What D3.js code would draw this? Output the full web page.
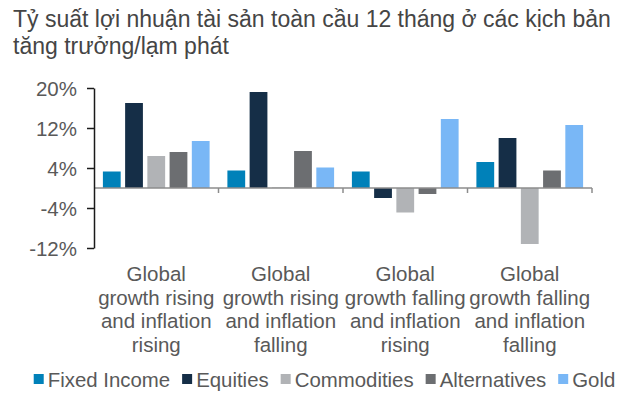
<!DOCTYPE html>
<html><head><meta charset="utf-8">
<script src="https://cdn.jsdelivr.net/npm/d3@7"></script>
<style>
html,body{margin:0;padding:0;background:#fff;}
svg{display:block;font-family:"Liberation Sans",Arial,Helvetica,sans-serif;}
</style></head>
<body>
<svg id="chart" width="640" height="400"></svg>
<script>
const titleLines = ["Tỷ suất lợi nhuận tài sản toàn cầu 12 tháng ở các kịch bản", "tăng trưởng/lạm phát"];
const categories = ["rr", "rf", "fr", "ff"];
const categoryLabels = [
  ["Global", "growth rising", "and inflation", "rising"],
  ["Global", "growth rising", "and inflation", "falling"],
  ["Global", "growth falling", "and inflation", "rising"],
  ["Global", "growth falling", "and inflation", "falling"]
];
const seriesNames = ["Fixed Income", "Equities", "Commodities", "Alternatives", "Gold"];
const fixedIncome  = [3.3, 3.5, 3.3, 5.2];
const equities     = [17.0, 19.2, -2.0, 10.0];
const commodities  = [6.4, 0.1, -4.9, -11.2];
const alternatives = [7.2, 7.4, -1.2, 3.5];
const gold         = [9.4, 4.1, 13.8, 12.6];
const seriesValues = [fixedIncome, equities, commodities, alternatives, gold];
const seriesColors = ["#0081b9", "#152e47", "#b1b3b6", "#6c6e71", "#79b7f6"];
const yTicks = [-12, -4, 4, 12, 20];

const svg = d3.select("#chart");
const textColor = "#595959";

// title
svg.append("g").selectAll("text").data(titleLines).join("text")
  .attr("x", 13).attr("y", (d, i) => 26.5 + i * 27.5)
  .attr("font-size", 23).attr("fill", "#454545").text(d => d);

const x0 = d3.scaleBand().domain(categories).range([94, 592]).padding(0);
const x1 = d3.scaleBand().domain(seriesNames).range([0, x0.bandwidth()]).paddingInner(0.2).paddingOuter(0.4);
const y = d3.scaleLinear().domain([-12, 20]).range([248, 88]);

// bars
const groups = svg.append("g").selectAll("g").data(categories).join("g")
  .attr("transform", d => `translate(${x0(d)},0)`);
groups.selectAll("rect").data((c, ci) => seriesNames.map((s, si) => ({s, si, v: seriesValues[si][ci]})))
  .join("rect")
  .attr("x", d => x1(d.s)).attr("width", x1.bandwidth())
  .attr("y", d => y(Math.max(0, d.v)))
  .attr("height", d => Math.abs(y(d.v) - y(0)))
  .attr("fill", d => seriesColors[d.si]);

// x axis at zero (gray)
const xAxis = svg.append("g").attr("transform", `translate(0,${y(0)})`);
xAxis.append("line").attr("x1", 94).attr("x2", 592).attr("stroke", "#8c8c8c").attr("stroke-width", 1.5);
const boundaries = categories.map(c => x0(c) + x0.bandwidth());
xAxis.selectAll("line.tk").data(boundaries).join("line").attr("class", "tk")
  .attr("x1", d => d).attr("x2", d => d).attr("y1", 0).attr("y2", 5)
  .attr("stroke", "#8c8c8c").attr("stroke-width", 1.5);

// y axis
const yAxis = svg.append("g").attr("transform", "translate(94,0)")
  .call(d3.axisLeft(y).tickValues(yTicks).tickSize(7).tickSizeOuter(0).tickPadding(10).tickFormat(d => d + "%"));
yAxis.select(".domain").attr("stroke", "#1a1a1a").attr("stroke-width", 1.5);
yAxis.selectAll(".tick line").attr("stroke", "#1a1a1a").attr("stroke-width", 1.5);
yAxis.selectAll(".tick text").attr("font-size", 20.5).attr("fill", textColor)
  .attr("font-family", '"Liberation Sans",Arial,sans-serif').attr("dy", "0.35em");

// category labels
const catG = svg.append("g");
categories.forEach((c, ci) => {
  catG.append("text").attr("text-anchor", "middle").attr("font-size", 20.5).attr("fill", textColor)
    .selectAll("tspan").data(categoryLabels[ci]).join("tspan")
    .attr("x", x0(c) + x0.bandwidth() / 2)
    .attr("y", (d, i) => 281 + i * 23.6)
    .text(d => d);
});

// legend
const legend = svg.append("g");
const items = legend.selectAll("g").data(seriesNames).join("g");
items.append("rect").attr("width", 10).attr("height", 10).attr("y", 374).attr("fill", (d, i) => seriesColors[i]);
items.append("text").attr("x", 14).attr("y", 386.5).attr("font-size", 20.4).attr("fill", textColor).text(d => d);
let cx = 0; const widths = [];
items.each(function(d) { widths.push(14 + this.querySelector("text").getComputedTextLength()); });
const gap = 12;
const total = d3.sum(widths) + gap * (widths.length - 1);
cx = 324.5 - total / 2;
items.attr("transform", (d, i) => { const t = `translate(${cx},0)`; cx += widths[i] + gap; return t; });
</script>
</body></html>
